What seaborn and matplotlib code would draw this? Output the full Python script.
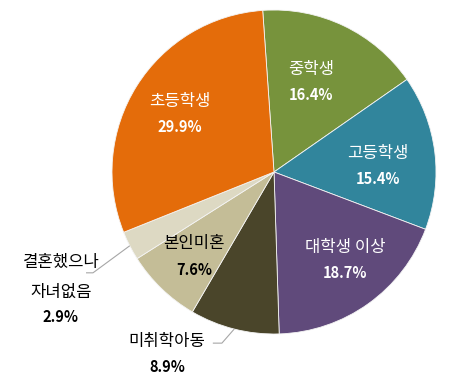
import numpy as np
import matplotlib
matplotlib.use("Agg")
import matplotlib.pyplot as plt
import seaborn as sns

sns.set_theme(style="white")
plt.rcParams['font.family'] = ['Noto Sans CJK KR', 'DejaVu Sans']

# data
categories = ['중학생', '고등학생', '대학생 이상', '미취학아동', '본인미혼', '결혼했으나\n자녀없음', '초등학생']
shares = [16.4, 15.4, 18.7, 8.9, 7.6, 2.9, 29.9]
colors = ['#77933C', '#31859C', '#604A7B', '#4A452A', '#C4BD97', '#DDD9C3', '#E46C0A']
text_colors = ['white', 'white', 'white', 'black', 'black', 'black', 'white']

fig = plt.figure(figsize=(4.58, 3.76), dpi=100)
ax = fig.add_axes([0, 0, 1, 1])

cx, cy, rad = 274, 172, 162
W, H = 458, 376

wedges, _ = ax.pie(shares, colors=colors, startangle=94, counterclock=False,
                   radius=1, wedgeprops=dict(linewidth=0.6, edgecolor='#f4f4f4'))

ax.set_xlim(-cx / rad, (W - cx) / rad)
ax.set_ylim((cy - H) / rad, cy / rad)
ax.set_aspect('equal')
ax.axis('off')

name_fs, pct_fs = 12, 10.5
gap = 0.16

# in-slice label: radial distance and angle nudge (None = outside with leader)
inside_r = [0.6, 0.643, 0.7, None, 0.72, None, 0.68]
nudge = [3.0, -3.8, 3.4, 0, 0.7, 0, 0.4]
# label block position (x, first line y) and leader knee offset, pie-radius units
outside_pos = {3: (-0.66, -1.049), 5: (-1.315, -0.556)}
knee = {3: (-0.076, -0.087, 0.056), 5: (-0.227, -0.167, 0.043)}

for i, w in enumerate(wedges):
    mid = np.deg2rad((w.theta1 + w.theta2) / 2 + nudge[i])
    pct = f"{shares[i]:.1f}%"
    if inside_r[i] is not None:
        x, y = inside_r[i] * np.cos(mid), inside_r[i] * np.sin(mid)
        ax.text(x, y + gap / 2, categories[i], ha='center', va='center',
                fontsize=name_fs, color=text_colors[i])
        ax.text(x, y - gap / 2, pct, ha='center', va='center', fontsize=pct_fs,
                fontweight='bold', color=text_colors[i])
    else:
        tx, ty = outside_pos[i]
        lines = categories[i].split('\n')
        for k, ln in enumerate(lines):
            ax.text(tx, ty - 0.185 * k, ln, ha='center', va='center',
                    fontsize=name_fs, color='black')
        ax.text(tx, ty - 0.185 * (len(lines) - 1) - 0.152, pct, ha='center',
                va='center', fontsize=pct_fs, fontweight='bold', color='black')
        # leader line from the slice edge to the label
        ex, ey = np.cos(mid), np.sin(mid)
        dx, dy, run = knee[i]
        ax.plot([ex, ex + dx, ex + dx - run], [ey, ey + dy, ey + dy],
                color='#a6a6a6', lw=0.8, solid_capstyle='butt')

fig.savefig('out.png', dpi=100)
